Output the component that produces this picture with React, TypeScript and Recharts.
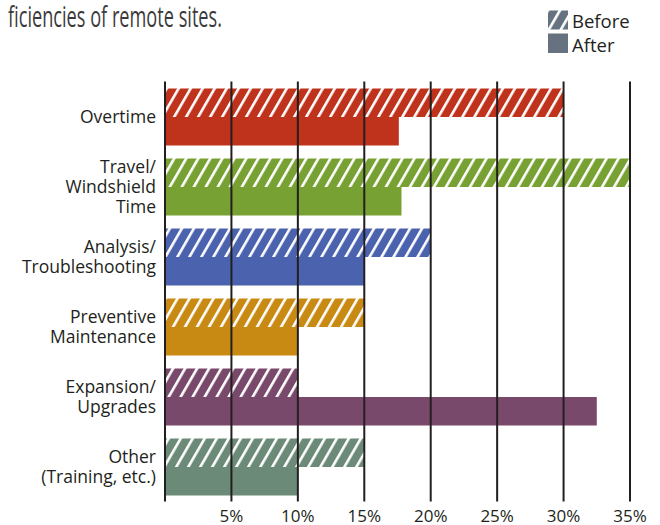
import React from 'react';
import { BarChart, Bar, XAxis, YAxis, Cell, ReferenceLine } from 'recharts';

// categories (top to bottom), values in percent
const categories = [
    'Overtime',
    'Travel/\nWindshield\nTime',
    'Analysis/\nTroubleshooting',
    'Preventive\nMaintenance',
    'Expansion/\nUpgrades',
    'Other\n(Training, etc.)',
];
const before = [30, 35, 20, 15, 10, 15];
const after = [17.6, 17.8, 15, 10, 32.5, 10];
const colors = ['#bf321c', '#77a133', '#4b62ae', '#c98a14', '#79496b', '#6b8a78'];
const xTicks = [5, 10, 15, 20, 25, 30, 35];
const gridLines = [0, 5, 10, 15, 20, 25, 30, 35];

const data = categories.map((name, i) => ({ name, before: before[i], after: after[i] }));

const FONT = '"Open Sans", "Noto Sans", sans-serif';
const INK = '#231f20';

const CategoryTick = (props: any) => {
    const { x, y, payload } = props;
    const lines = String(payload.value).split('\n');
    const lh = 20;
    const start = -((lines.length - 1) * lh) / 2;
    return (
        <text x={x} y={y} textAnchor="end" fill={INK} fontSize={17.5} fontFamily={FONT}>
            {lines.map((l, i) => (
                <tspan key={i} x={x} y={y + start + i * lh} dy="0.35em">
                    {l}
                </tspan>
            ))}
        </text>
    );
};

const Hatch = ({ id, color }: { id: string; color: string }) => (
    <pattern id={id} patternUnits="userSpaceOnUse" width={10.4} height={10} patternTransform="rotate(30)">
        <rect width={10.4} height={10} fill={color} />
        <rect width={2.6} height={10} fill="#ffffff" />
    </pattern>
);

export default function App() {
    return (
        <div style={{ position: 'absolute', left: 0, top: 0, width: 660, height: 525, background: '#fff' }}>
            {/* title fragment + legend */}
            <svg width={660} height={70} style={{ position: 'absolute', left: 0, top: 0 }}>
                <defs>
                    <Hatch id="hatch-legend" color="#66727f" />
                </defs>
                <text x={8} y={27} fontSize={29} fill="#3a3a3a" fontFamily={FONT} textLength={214} lengthAdjust="spacingAndGlyphs">
                    ficiencies of remote sites.
                </text>
                <rect x={548} y={10.5} width={20} height={19} fill="url(#hatch-legend)" />
                <text x={572} y={28} fontSize={18.5} fill={INK} fontFamily={FONT}>Before</text>
                <rect x={548} y={33.5} width={20} height={19.5} fill="#66727f" />
                <text x={572} y={51.5} fontSize={18.5} fill={INK} fontFamily={FONT}>After</text>
            </svg>
            <div style={{ position: 'absolute', left: 0, top: 0 }}>
                <BarChart
                    width={660}
                    height={525}
                    data={data}
                    layout="vertical"
                    margin={{ top: 81.5, right: 30, bottom: 1.5, left: 0 }}
                    barGap={0}
                >
                    <defs>
                        {colors.map((c, i) => (
                            <Hatch key={i} id={`hatch-${i}`} color={c} />
                        ))}
                    </defs>
                    <XAxis
                        type="number"
                        domain={[0, 35]}
                        ticks={xTicks}
                        tickFormatter={(v) => `${v}%`}
                        axisLine={false}
                        tickLine={false}
                        height={22}
                        tickMargin={2}
                        tick={{ fill: INK, fontSize: 17, fontFamily: FONT }}
                    />
                    <YAxis
                        type="category"
                        dataKey="name"
                        width={165}
                        axisLine={false}
                        tickLine={false}
                        tickMargin={3}
                        tick={<CategoryTick />}
                        interval={0}
                    />
                    <Bar dataKey="before" barSize={28.5} isAnimationActive={false}>
                        {data.map((_, i) => (
                            <Cell key={i} fill={`url(#hatch-${i})`} />
                        ))}
                    </Bar>
                    <Bar dataKey="after" barSize={28.5} isAnimationActive={false}>
                        {data.map((_, i) => (
                            <Cell key={i} fill={colors[i]} />
                        ))}
                    </Bar>
                    {gridLines.map((v) => (
                        <ReferenceLine key={v} x={v} stroke={INK} strokeWidth={2} />
                    ))}
                </BarChart>
            </div>
        </div>
    );
}
